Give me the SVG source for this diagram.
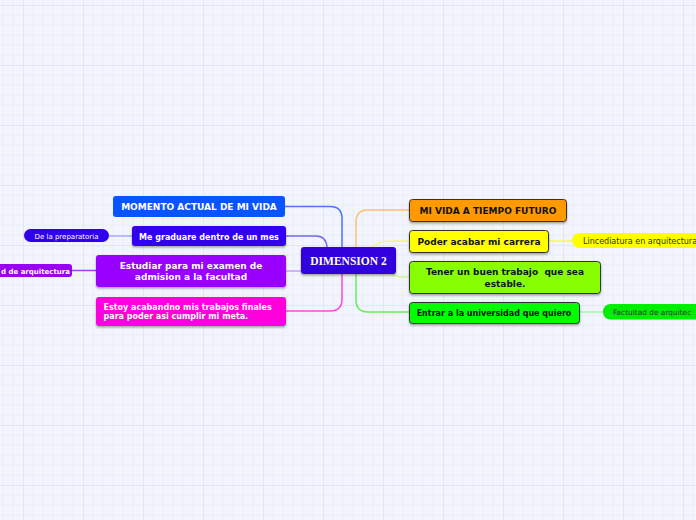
<svg xmlns="http://www.w3.org/2000/svg" width="696" height="520" viewBox="0 0 696 520">
<defs>
<pattern id="grid" x="23" y="5" width="60" height="60" patternUnits="userSpaceOnUse">
<path d="M10 0V60M20 0V60M30 0V60M40 0V60M50 0V60M0 10H60M0 20H60M0 30H60M0 40H60M0 50H60" stroke="#e9ecf7" stroke-width="1" fill="none"/>
<path d="M0.5 0V60M0 0.5H60" stroke="#e1e6f2" stroke-width="1" fill="none"/>
</pattern>
<filter id="sh" x="-10%" y="-20%" width="120%" height="160%">
<feDropShadow dx="0" dy="1.5" stdDeviation="1" flood-color="#000" flood-opacity="0.35"/>
</filter>
</defs>
<style>
.t{font-family:"DejaVu Sans",Verdana,sans-serif;font-weight:bold;font-size:9px;}
.s8{font-size:8px;}
.w{fill:#fff;}
.k{fill:#111;}
.c{text-anchor:middle;}
.p{font-family:"DejaVu Sans",Verdana,sans-serif;font-size:7px;}
.bd{stroke:#333;stroke-width:1;}
.ln{fill:none;stroke-width:1.5;}
</style>
<rect width="696" height="520" fill="#f2f5fd"/>
<rect width="696" height="520" fill="url(#grid)"/>

<g id="connectors">
<path class="ln" d="M285 206.5H330Q342 206.5 342 218.5V247" stroke="#4f72ff"/>
<path class="ln" d="M286 236H316Q326 236 327 247" stroke="#7564f4"/>
<path class="ln" d="M286 271H301" stroke="#c99cf5"/>
<path class="ln" d="M286 311H330Q342 311 342 299V274" stroke="#ff45e6"/>
<path class="ln" d="M356 247V222Q356 210 368 210H409" stroke="#ffc070"/>
<path class="ln" d="M372 247Q378 241 392 241H409" stroke="#f4f48a"/>
<path class="ln" d="M392 274Q396 277 404 277H409" stroke="#c8f59c"/>
<path class="ln" d="M356 274V300Q356 312 368 312H409" stroke="#66f05a"/>
<path class="ln" d="M548 241H572" stroke="#f4f46a"/>
<path class="ln" d="M579 312H603" stroke="#a6f5a6"/>
<path class="ln" d="M132 236H109" stroke="#a8a8f5"/>
<path class="ln" d="M96 270.5H72" stroke="#a23cf0"/>
</g>

<g id="center">
<rect x="301" y="247" width="95" height="27" rx="3" fill="#3300dd" filter="url(#sh)"/>
<text x="348.5" y="264.5" class="c w" style="font-family:'Liberation Serif','Times New Roman',serif;font-weight:bold;font-size:11.5px">DIMENSION 2</text>
</g>

<g id="momento">
<rect x="113" y="196" width="172" height="21" rx="3" fill="#0855ff"/>
<text x="199" y="210" class="t w c">MOMENTO ACTUAL DE MI VIDA</text>
</g>

<g id="graduare">
<rect x="132" y="226" width="154" height="20" rx="3" fill="#3300ee" filter="url(#sh)"/>
<text x="209" y="239.5" class="t s8 w c">Me graduare dentro de un mes</text>
</g>

<g id="preparatoria">
<rect x="24" y="229" width="85" height="13" rx="6.5" fill="#3000ee"/>
<text x="66.5" y="238.5" class="p w c">De la preparatoria</text>
</g>

<g id="estudiar">
<rect x="96" y="255" width="190" height="32" rx="3" fill="#9900ff" filter="url(#sh)"/>
<text x="191" y="269" class="t w c">Estudiar para mi examen de</text>
<text x="191" y="280" class="t w c">admision a la facultad</text>
</g>

<g id="facultad-left">
<rect x="-40" y="264" width="112" height="13" rx="3" fill="#9900ee"/>
<text x="1" y="273.5" class="p w" style="font-weight:bold">d de arquitectura</text>
</g>

<g id="estoy">
<rect x="96" y="297" width="190" height="29" rx="3" fill="#ff00dd" filter="url(#sh)"/>
<text x="103.5" y="310" class="t s8 w">Estoy acabandno mis trabajos finales</text>
<text x="103.5" y="319" class="t s8 w">para poder asi cumplir mi meta.</text>
</g>

<g id="futuro">
<rect x="409.5" y="199.5" width="157" height="22" rx="3" fill="#ff9900" class="bd" filter="url(#sh)"/>
<text x="488" y="214" class="t k c">MI VIDA A TIEMPO FUTURO</text>
</g>

<g id="carrera">
<rect x="409.5" y="230.5" width="139" height="22" rx="3" fill="#ffff00" class="bd" filter="url(#sh)"/>
<text x="479" y="244.5" class="t k c">Poder acabar mi carrera</text>
</g>

<g id="lincediatura">
<rect x="572" y="233" width="140" height="15" rx="7.5" fill="#ffff00"/>
<text x="583" y="243.5" class="p" style="fill:#333;font-size:8px">Lincediatura en arquitectura</text>
</g>

<g id="trabajo">
<rect x="409.5" y="261.5" width="191" height="32" rx="3" fill="#88ff00" class="bd" filter="url(#sh)"/>
<text x="505" y="275" class="t k c" xml:space="preserve">Tener un buen trabajo  que sea</text>
<text x="505" y="286.5" class="t k c">estable.</text>
</g>

<g id="universidad">
<rect x="409.5" y="302.5" width="170" height="21" rx="3" fill="#00ff00" class="bd" filter="url(#sh)"/>
<text x="494" y="316" class="t s8 k c">Entrar a la universidad que quiero</text>
</g>

<g id="factultad">
<rect x="603" y="304" width="140" height="15.5" rx="7.5" fill="#00ee00"/>
<text x="613" y="315" class="p" style="fill:#333;font-size:7.4px">Factultad de arquitec</text>
</g>
</svg>
